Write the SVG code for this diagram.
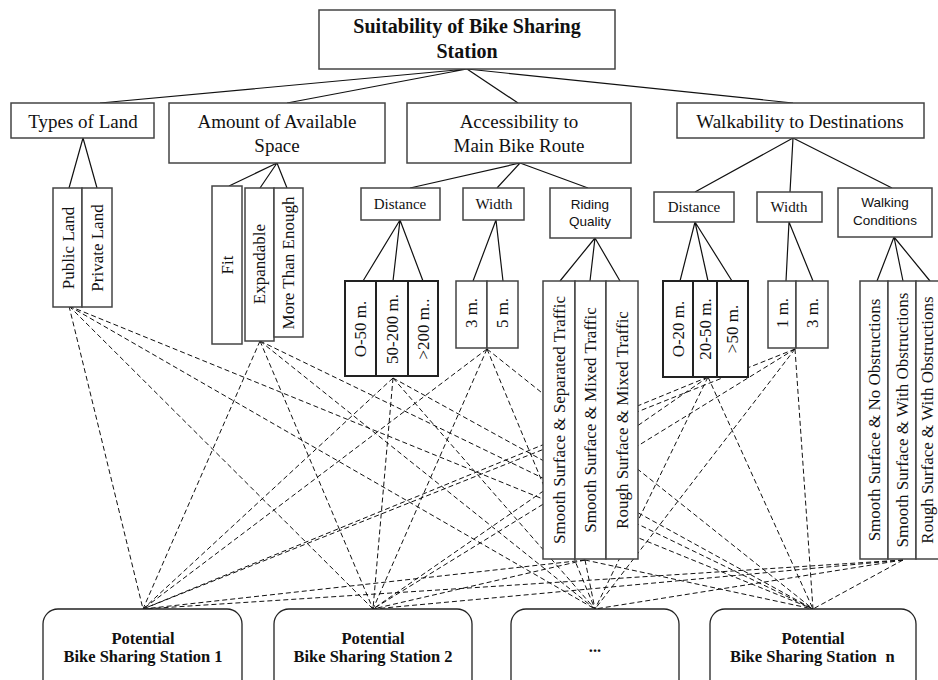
<svg xmlns="http://www.w3.org/2000/svg" width="938" height="680" viewBox="0 0 938 680">
<style>
.bx{fill:#fff;stroke:#444;stroke-width:1.5}
.bk{fill:#fff;stroke:#222;stroke-width:2}
.st{fill:#fff;stroke:#222;stroke-width:1.3}
.t{font-family:"Liberation Serif","Times New Roman",serif;fill:#111;text-anchor:middle}
.cat{font-size:19px}
.sub{font-size:15px}
.v{font-size:17px}
.ss{font-family:"Liberation Sans",Arial,sans-serif;font-size:13.5px;fill:#111;text-anchor:middle}
.b{font-weight:bold}
.sol{stroke:#111;stroke-width:1.2;fill:none}
.dash{stroke:#111;stroke-width:1;stroke-dasharray:5 3;fill:none}
</style>
<rect width="938" height="680" fill="#fff"/>
<g id="connectors">
<g class="sol">
<path d="M467 69L100 103M467 69L287 103M467 69L518 103M467 69L793 103"/>
<path d="M83 138L69 188M83 138L97 188"/>
<path d="M277 163L229 186M277 163L260 188M277 163L287 188"/>
<path d="M520 163L410 188M520 163L497 188M520 163L588 188"/>
<path d="M400 220L363 281M400 220L393 281M400 220L423 281"/>
<path d="M496 220L473 281M496 220L503 281"/>
<path d="M595 238L560 281M595 238L590 281M595 238L620 281"/>
<path d="M793 138L695 192M793 138L790 192M793 138L892 188"/>
<path d="M695 222L680 281M695 222L708 281M695 222L732 281"/>
<path d="M789 222L786 281M789 222L813 281"/>
<path d="M894 237L877 281M894 237L903 281M894 237L930 281"/>
</g>
<g class="dash">
<path d="M69 306L143 609M69 306L373 609M69 306L595 609M69 306L813 609"/>
<path d="M260 341L143 609M260 341L373 609M260 341L595 609M260 341L813 609"/>
<path d="M393 378L143 609M393 378L373 609M393 378L595 609M393 378L813 609"/>
<path d="M487 349L143 609M487 349L373 609M487 349L595 609M487 349L813 609"/>
<path d="M585 560L143 609M585 560L373 609M585 560L595 609M585 560L813 609"/>
<path d="M708 377L143 609M708 377L373 609M708 377L595 609M708 377L813 609"/>
<path d="M795 349L143 609M795 349L373 609M795 349L595 609M795 349L813 609"/>
<path d="M903 560L143 609M903 560L373 609M903 560L595 609M903 560L813 609"/>
</g>
</g>
<g id="goal">
<rect class="bx" x="319" y="10" width="296" height="59"/>
<text class="t b" font-size="20" x="467" y="33">Suitability of Bike Sharing</text>
<text class="t b" font-size="20" x="467" y="58">Station</text>
</g>
<g id="types-of-land">
<rect class="bx" x="11" y="103" width="143" height="35"/>
<text class="t cat" x="83" y="128">Types of Land</text>
</g>
<g id="amount-space">
<rect class="bx" x="169" y="103" width="216" height="60"/>
<text class="t cat" x="277" y="128">Amount of Available</text>
<text class="t cat" x="277" y="152">Space</text>
</g>
<g id="accessibility">
<rect class="bx" x="407" y="103" width="224" height="60"/>
<text class="t cat" x="519" y="128">Accessibility to</text>
<text class="t cat" x="519" y="152">Main Bike Route</text>
</g>
<g id="walkability">
<rect class="bx" x="677" y="103" width="247" height="35"/>
<text class="t cat" x="800" y="128">Walkability to Destinations</text>
</g>
<g id="acc-distance">
<rect class="bx" x="361" y="188" width="79" height="32"/>
<text class="t sub" x="400" y="209">Distance</text>
</g>
<g id="acc-width">
<rect class="bx" x="463" y="188" width="61" height="32"/>
<text class="t sub" x="494" y="209">Width</text>
</g>
<g id="riding-quality">
<rect class="bx" x="550" y="188" width="81" height="50"/>
<text class="ss" x="590" y="209">Riding</text>
<text class="ss" x="590" y="226">Quality</text>
</g>
<g id="walk-distance">
<rect class="bx" x="654" y="192" width="80" height="30"/>
<text class="t sub" x="694" y="212">Distance</text>
</g>
<g id="walk-width">
<rect class="bx" x="757" y="192" width="65" height="30"/>
<text class="t sub" x="789" y="212">Width</text>
</g>
<g id="walking-conditions">
<rect class="bx" x="838" y="188" width="94" height="49"/>
<text class="ss" x="885" y="207">Walking</text>
<text class="ss" x="885" y="225">Conditions</text>
</g>
<g id="land-options">
<rect class="bx" x="53" y="188" width="29" height="119"/>
<rect class="bx" x="82" y="188" width="30" height="119"/>
<text class="t v" font-size="16" transform="translate(74 248) rotate(-90)">Public Land</text>
<text class="t v" font-size="16" transform="translate(103 248) rotate(-90)">Private Land</text>
</g>
<g id="space-options">
<rect class="bx" x="212" y="186" width="30" height="158"/>
<rect class="bx" x="245" y="188" width="29" height="153"/>
<rect class="bx" x="274" y="188" width="29" height="149"/>
<text class="t v" font-size="16" transform="translate(233 265) rotate(-90)">Fit</text>
<text class="t v" font-size="16" transform="translate(265 264) rotate(-90)">Expandable</text>
<text class="t v" font-size="15.5" transform="translate(294 263) rotate(-90)">More Than Enough</text>
</g>
<g id="acc-distance-options">
<rect class="bk" x="345" y="281" width="31" height="95"/>
<rect class="bk" x="376" y="281" width="32" height="95"/>
<rect class="bk" x="408" y="281" width="30" height="95"/>
<text class="t v" transform="translate(366 329) rotate(-90)">O-50 m.</text>
<text class="t v" transform="translate(398 329) rotate(-90)">50-200 m.</text>
<text class="t v" transform="translate(429 329) rotate(-90)">&gt;200 m..</text>
</g>
<g id="acc-width-options">
<rect class="bx" x="456" y="281" width="31" height="67"/>
<rect class="bx" x="487" y="281" width="31" height="67"/>
<text class="t v" transform="translate(477 313) rotate(-90)">3 m.</text>
<text class="t v" transform="translate(508 313) rotate(-90)">5 m.</text>
</g>
<g id="riding-options">
<rect class="bx" x="543" y="281" width="32" height="278"/>
<rect class="bx" x="575" y="281" width="31" height="278"/>
<rect class="bx" x="606" y="281" width="32" height="278"/>
<text class="t v" transform="translate(565 420) rotate(-90)">Smooth Surface &amp; Separated Traffic</text>
<text class="t v" transform="translate(596 420) rotate(-90)">Smooth Surface &amp; Mixed Traffic</text>
<text class="t v" transform="translate(628 420) rotate(-90)">Rough Surface &amp; Mixed Traffic</text>
</g>
<g id="walk-distance-options">
<rect class="bk" x="663" y="281" width="30" height="96"/>
<rect class="bk" x="693" y="281" width="24" height="96"/>
<rect class="bk" x="717" y="281" width="31" height="96"/>
<text class="t v" transform="translate(684 329) rotate(-90)">O-20  m.</text>
<text class="t v" transform="translate(711 329) rotate(-90)">20-50  m.</text>
<text class="t v" transform="translate(738 329) rotate(-90)">&gt;50 m.</text>
</g>
<g id="walk-width-options">
<rect class="bx" x="768" y="281" width="28" height="67"/>
<rect class="bx" x="796" y="281" width="32" height="67"/>
<text class="t v" transform="translate(788 313) rotate(-90)">1 m.</text>
<text class="t v" transform="translate(818 313) rotate(-90)">3 m.</text>
</g>
<g id="walking-options">
<rect class="bx" x="860" y="281" width="28" height="278"/>
<rect class="bx" x="888" y="281" width="28" height="278"/>
<rect class="bx" x="916" y="281" width="28" height="278"/>
<text class="t v" transform="translate(880 420) rotate(-90)">Smooth Surface &amp; No Obstructions</text>
<text class="t v" transform="translate(908 420) rotate(-90)">Smooth Surface &amp; With Obstructions</text>
<text class="t v" transform="translate(933 420) rotate(-90)">Rough Surface &amp; With Obstructions</text>
</g>
<g id="station-1">
<rect class="st" x="43" y="609" width="199" height="90" rx="15"/>
<text class="t b" font-size="16.5" x="143" y="644">Potential</text>
<text class="t b" font-size="16.5" x="143" y="662">Bike Sharing Station 1</text>
</g>
<g id="station-2">
<rect class="st" x="274" y="609" width="198" height="90" rx="15"/>
<text class="t b" font-size="16.5" x="373" y="644">Potential</text>
<text class="t b" font-size="16.5" x="373" y="662">Bike Sharing Station 2</text>
</g>
<g id="station-etc">
<rect class="st" x="511" y="609" width="168" height="90" rx="15"/>
<text class="t b" font-size="16.5" x="595" y="652">...</text>
</g>
<g id="station-n">
<rect class="st" x="710" y="609" width="206" height="90" rx="15"/>
<text class="t b" font-size="16.5" x="813" y="644">Potential</text>
<text class="t b" font-size="16.5" x="730" y="662" style="text-anchor:start">Bike Sharing Station</text>
<text class="t b" font-size="16.5" x="890" y="662">n</text>
</g>
</svg>
